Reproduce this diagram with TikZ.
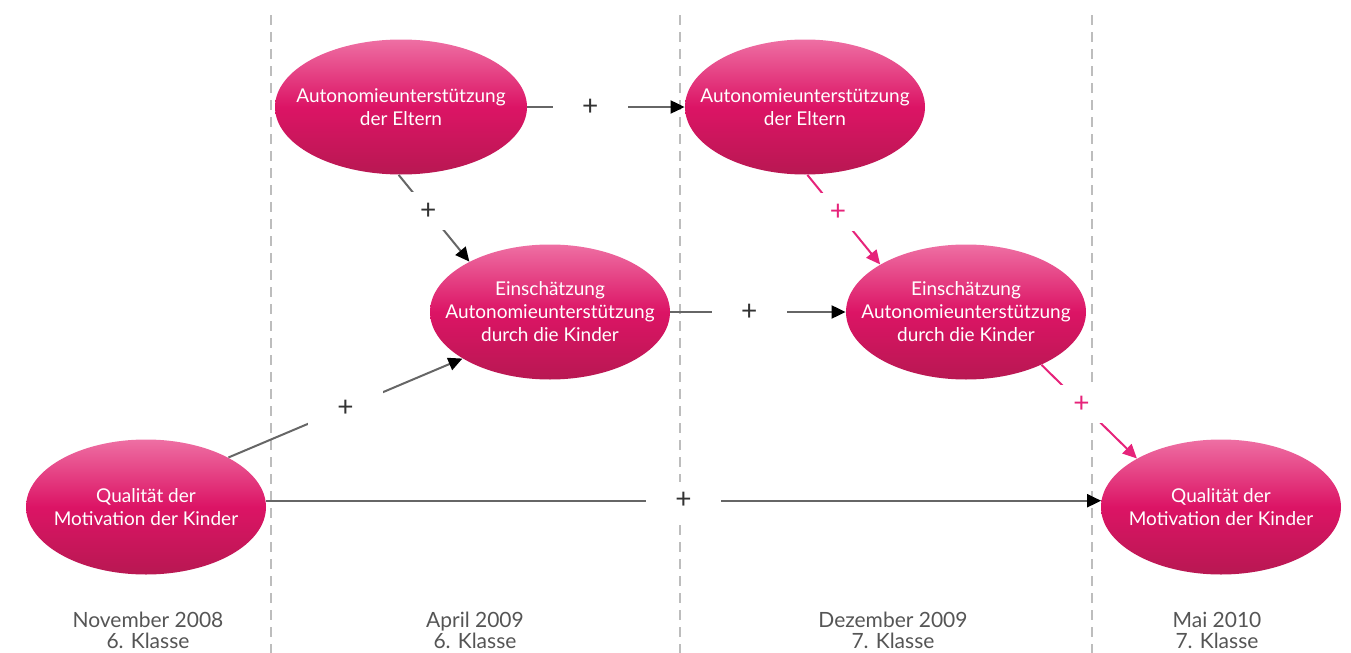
\documentclass[tikz,border=0pt]{standalone}
\usepackage{fontspec}
\setmainfont{Lato}
\usepackage{xcolor}
\usetikzlibrary{shapes.geometric, arrows.meta, positioning}

\definecolor{rosa}{HTML}{E6237A}
\definecolor{rosahell}{HTML}{EE6FA3}
\definecolor{rosamitte}{HTML}{DC1465}
\definecolor{rosadunkel}{HTML}{B81852}
\definecolor{linie}{HTML}{666666}
\definecolor{strich}{HTML}{BDBDBD}
\definecolor{datum}{HTML}{555555}

\tikzset{
  blase/.style={ellipse, minimum width=120pt, minimum height=67.5pt, inner xsep=-12pt, inner ysep=0pt,
    top color=rosahell, bottom color=rosadunkel, middle color=rosamitte,
    text=white, align=center, font=\fontsize{9.5}{11.5}\selectfont},
  pfeil/.style={draw=linie, line width=1pt, -{Triangle[length=7pt, width=6.5pt, color=black]}},
  pfeilrosa/.style={draw=rosa, line width=1pt, -{Triangle[length=7pt, width=6.5pt]}},
  plus/.style={fill=white, minimum width=37.5pt, minimum height=19pt, inner sep=0pt,
    font=\fontsize{14}{14}\selectfont, text=black!80},
  zeit/.style={draw=strich, line width=1pt, dash pattern=on 5pt off 3.5pt},
  datum/.style={text=datum, align=center, font=\fontsize{10.5}{10.5}\selectfont}
}

\begin{document}
\begin{tikzpicture}[x=0.5pt, y=-0.5pt]
    \useasboundingbox (0,0) rectangle (1351,653);

    % 1. Zeitachsen
    \draw[zeit] (271,15) -- (271,653);
    \draw[zeit] (680,15) -- (680,653);
    \draw[zeit] (1092,15) -- (1092,653);

    % 2. Ellipsen
    \node[blase, minimum width=126pt] (elt1) at (401,107) {Autonomieunterstützung\\der Eltern};
    \node[blase] (elt2) at (805,107) {Autonomieunterstützung\\der Eltern};
    \node[blase] (kind1) at (550,312) {Einschätzung\\Autonomieunterstützung\\durch die Kinder};
    \node[blase] (kind2) at (966,312) {Einschätzung\\Autonomieunterstützung\\durch die Kinder};
    \node[blase] (mot1) at (146,507) {Qualität der\\Motivation der Kinder};
    \node[blase] (mot2) at (1221,507) {Qualität der\\Motivation der Kinder};

    % 3. Pfeile
    \draw[pfeil] (elt1.east) -- node[plus, pos=0.4] (p1) {+} (elt2.west);
    \draw[pfeil] (elt1.268) -- node[plus, pos=0.42] (p2) {+} (kind1.148);
    \draw[pfeil] (kind1.east) -- node[plus, pos=0.45] (p3) {+} (kind2.west);
    \draw[pfeil] (mot1.31) -- node[plus, pos=0.5] (p4) {+} (kind1.208);
    \draw[pfeil] (mot1.3) -- node[plus, pos=0.5] (p5) {+} (mot2.177);
    \draw[pfeilrosa] (elt2.272) -- node[plus, pos=0.42, text=rosa] (p6) {+} (kind2.151);
    \draw[pfeilrosa] (kind2.-35) -- node[plus, pos=0.42, text=rosa] (p7) {+} (mot2.150);

    % 4. Zeitpunkte
    \node[datum] (t1) at (148,630) {November 2008\\6. Klasse};
    \node[datum] (t2) at (475,630) {April 2009\\6. Klasse};
    \node[datum] (t3) at (893,630) {Dezember 2009\\7. Klasse};
    \node[datum] (t4) at (1217,630) {Mai 2010\\7. Klasse};
\end{tikzpicture}
\end{document}
